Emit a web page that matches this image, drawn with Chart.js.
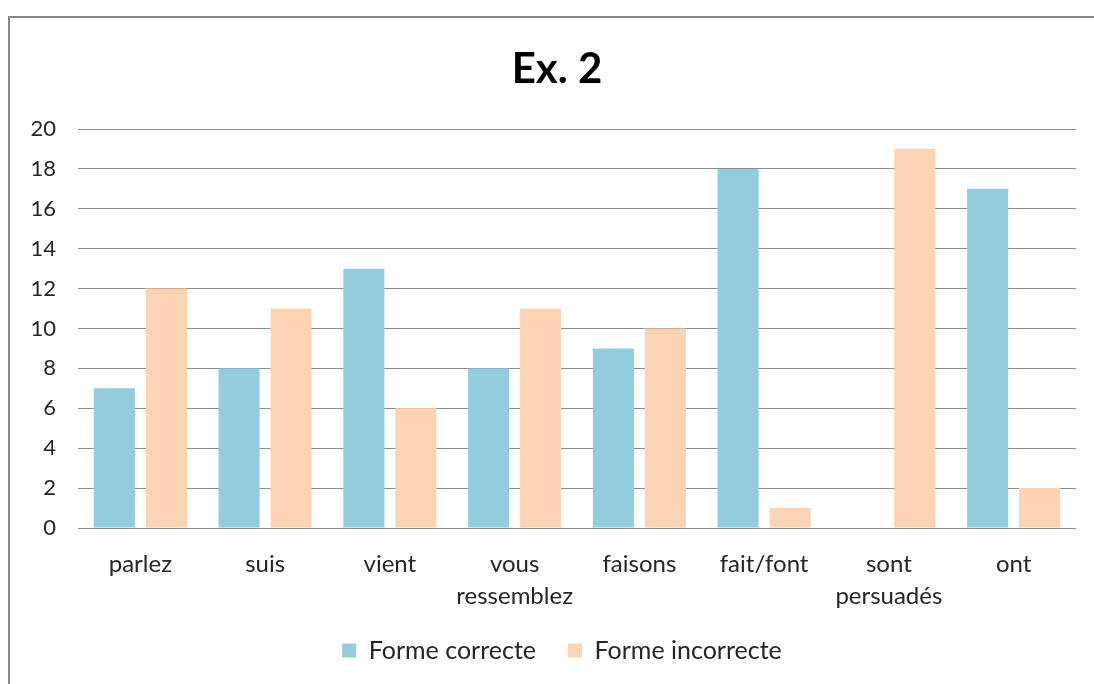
<!DOCTYPE html>
<html>
<head>
<meta charset="utf-8">
<script src="https://cdn.jsdelivr.net/npm/chart.js@4/dist/chart.umd.min.js"></script>
<style>
html,body{margin:0;padding:0;background:#fff;}
#wrap{position:relative;width:1094px;height:684px;}
</style>
</head>
<body>
<div id="wrap"><canvas id="c" width="1094" height="684"></canvas></div>
<script>
const categories = ["parlez", "suis", "vient", ["vous", "ressemblez"], "faisons", "fait/font", ["sont", "persuadés"], "ont"];
const seriesNames = ["Forme correcte", "Forme incorrecte"];
const formeCorrecte = [7, 8, 13, 8, 9, 18, 0, 17];
const formeIncorrecte = [12, 11, 6, 11, 10, 1, 19, 2];
const yTicks = [0, 2, 4, 6, 8, 10, 12, 14, 16, 18, 20];

const FONT = "Lato, 'Open Sans', sans-serif";

const layoutPlugin = {
  id: 'layoutTweaks',
  beforeLayout(chart) {
    const lg = chart.legend;
    if (lg && !lg._patched) {
      const orig = lg.fit;
      lg.fit = function () { orig.call(this); this.height = 50; };
      lg._patched = true;
    }
  },
  afterLayout(chart) {
    const lg = chart.legend;
    if (lg) {
      lg.top -= 12; lg.bottom = chart.height; lg.height = lg.bottom - lg.top;
      lg.left += 24; lg.right += 24;
    }
    const tb = chart.titleBlock;
    if (tb) { tb.left += 19; tb.right += 19; }
  },
  beforeDraw(chart) {
    const ctx = chart.ctx;
    ctx.save();
    ctx.fillStyle = '#fff';
    ctx.fillRect(0, 0, chart.width, chart.height);
    ctx.strokeStyle = '#878787';
    ctx.lineWidth = 2;
    ctx.strokeRect(9, 17, 1200, 800);
    ctx.restore();
  }
};

new Chart(document.getElementById('c'), {
  type: 'bar',
  data: {
    labels: categories,
    datasets: [
      { label: seriesNames[0], data: formeCorrecte, backgroundColor: '#93CDDD' },
      { label: seriesNames[1], data: formeIncorrecte, backgroundColor: '#FAD4B4' }
    ]
  },
  options: {
    responsive: false,
    animation: false,
    devicePixelRatio: 1,
    layout: { padding: { left: 0, right: 18, top: 0, bottom: 16 } },
    datasets: { bar: { categoryPercentage: 0.834, barPercentage: 0.79 } },
    plugins: {
      title: {
        display: true,
        text: 'Ex. 2',
        color: '#000',
        font: { family: FONT, size: 42, weight: 'bold', lineHeight: 1.2 },
        padding: { top: 44, bottom: 34.6 }
      },
      legend: {
        position: 'bottom',
        labels: {
          boxWidth: 14, boxHeight: 14, padding: 32,
          color: '#262626',
          font: { family: FONT, size: 25 }
        }
      },
      tooltip: { enabled: false }
    },
    scales: {
      x: {
        grid: { display: false, drawTicks: false },
        border: { display: false },
        ticks: { color: '#262626', font: { family: FONT, size: 24, lineHeight: 1.333 }, padding: 20, maxRotation: 0, autoSkip: false },
        afterFit(s) { s.height = 90; }
      },
      y: {
        min: 0, max: 20,
        afterBuildTicks(s) { s.ticks = yTicks.map(v => ({ value: v })); },
        grid: { color: '#8c8c8c', lineWidth: 1, drawTicks: false },
        border: { display: false },
        ticks: { color: '#262626', font: { family: FONT, size: 22 }, padding: 22 },
        afterFit(s) { s.width = 78; }
      }
    }
  },
  plugins: [layoutPlugin]
});
</script>
</body>
</html>
